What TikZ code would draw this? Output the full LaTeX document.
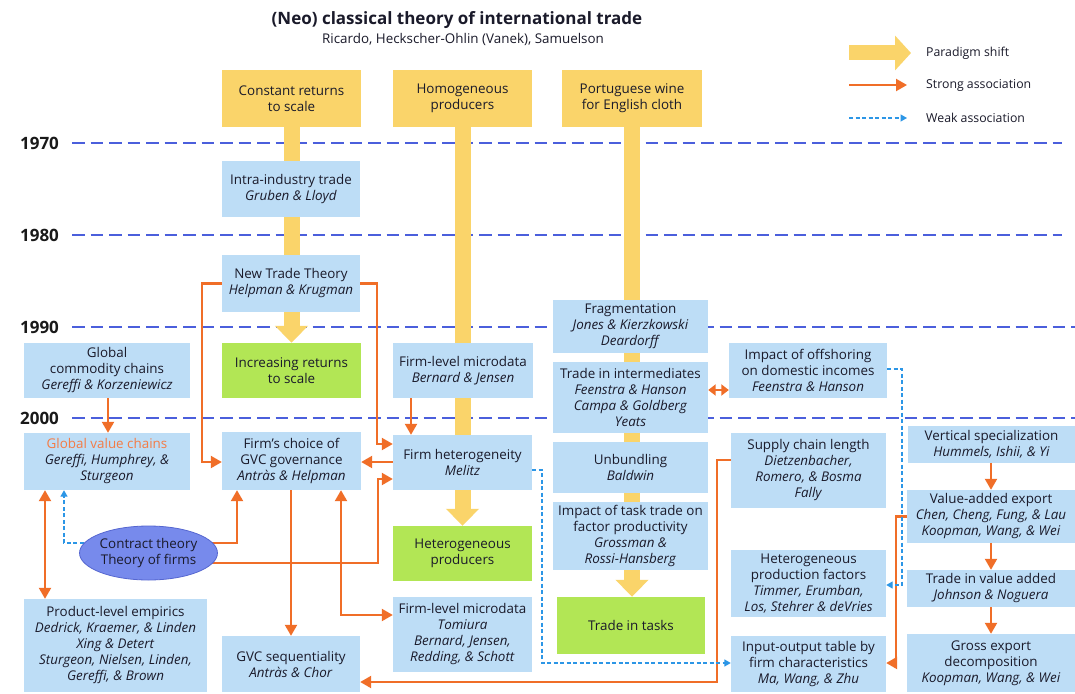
\documentclass[tikz,border=0pt]{standalone}
\usepackage{fontspec}
\setmainfont{Open Sans}
\usetikzlibrary{arrows.meta,shapes.geometric}
\pgfdeclarelayer{bg}
\pgfsetlayers{bg,main}
\definecolor{ybar}{HTML}{FAD46A}
\definecolor{boxblue}{HTML}{BDDDF6}
\definecolor{boxgreen}{HTML}{B2E655}
\definecolor{orng}{HTML}{F06E28}
\definecolor{gvcorange}{HTML}{F47B45}
\definecolor{dblue}{HTML}{2C96E6}
\definecolor{yrline}{HTML}{4B5FDC}
\definecolor{ellfill}{HTML}{778AEC}
\definecolor{elldraw}{HTML}{5566D0}
\definecolor{textcol}{HTML}{1A1A2A}
\newcommand\bodyfont{\fontsize{13.4}{16}\selectfont}
\begin{document}
\begin{tikzpicture}[x=1pt,y=-1pt,
  bx/.style={fill=boxblue, inner sep=0pt, align=center, font=\bodyfont, text=textcol},
  gbx/.style={bx, fill=boxgreen},
  ybx/.style={bx, fill=ybar},
  wh/.style 2 args={minimum width=#1, minimum height=#2},
  oarr/.style={draw=orng, line width=2.2pt, -{Triangle[length=11pt,width=12pt]}},
  oarrr/.style={draw=orng, line width=2.2pt, {Triangle[length=11pt,width=12pt]}-{Triangle[length=11pt,width=12pt]}},
  oarrs/.style={draw=orng, line width=2.2pt, {Triangle[length=7.5pt,width=11pt]}-{Triangle[length=7.5pt,width=11pt]}},
  barr/.style={draw=dblue, line width=1.4pt, dash pattern=on 4pt off 2.5pt, -{Triangle[length=6.5pt,width=7pt]}},
  paradigm/.style={draw=ybar, line width=16pt, -{Triangle[length=17pt,width=32pt]}},
  yline/.style={draw=yrline, line width=1.5pt, dash pattern=on 12.5pt off 6pt},
  yr/.style={font=\fontsize{17}{19}\selectfont\bfseries, text=black!90, inner sep=0pt},
  lg/.style={font=\fontsize{12.3}{14}\selectfont, text=textcol, anchor=west, inner sep=0pt}
]
\useasboundingbox (0,0) rectangle (1075,693);

% title
\node[font=\fontsize{17}{19}\selectfont\bfseries, text=textcol] (title) at (457,20) {(Neo) classical theory of international trade};
\node[font=\fontsize{13.4}{15}\selectfont, text=textcol] (subtitle) at (463,39) {Ricardo, Heckscher-Ohlin (Vanek), Samuelson};

% legend
\coordinate (lg1a) at (849,53); \coordinate (lg1b) at (911,53);
\coordinate (lg2a) at (849,85); \coordinate (lg2b) at (907,85);
\coordinate (lg3a) at (849,118); \coordinate (lg3b) at (907,118);
\node[lg] (lgt1) at (926,53) {Paradigm shift};
\node[lg] (lgt2) at (926,85) {Strong association};
\node[lg] (lgt3) at (926,118) {Weak association};

% years
\node[yr] (y1970) at (39.5,143) {1970};
\node[yr] (y1980) at (39.5,235) {1980};
\node[yr] (y1990) at (39.5,327) {1990};
\node[yr] (y2000) at (39.5,418) {2000};

% top yellow boxes
\node[ybx, wh={139}{57}] (crs) at (291.5,98.5) {Constant returns\\to scale};
\node[ybx, wh={139}{57}] (homog) at (462.5,98.5) {Homogeneous\\producers};
\node[ybx, wh={140}{57}] (port) at (632,98.5) {Portuguese wine\\for English cloth};

% column 1
\node[bx, wh={138}{56}] (intra) at (291,189) {Intra-industry trade\\\textit{Gruben \& Lloyd}};
\node[bx, wh={138}{57}] (ntt) at (291,283.5) {New Trade Theory\\\textit{Helpman \& Krugman}};
\node[gbx, wh={139}{55}] (irs) at (291.5,370.5) {Increasing returns\\to scale};
\node[bx, wh={139}{58}] (choice) at (291.5,461) {Firm’s choice of\\GVC governance\\\textit{Antràs \& Helpman}};
\node[bx, wh={138}{56}] (seq) at (291,664) {GVC sequentiality\\\textit{Antràs \& Chor}};

% column 0
\node[bx, wh={166}{55}] (gcc) at (107,370.5) {Global\\commodity chains\\\textit{Gereffi \& Korzeniewicz}};
\node[bx, wh={166}{57}] (gvc) at (107,461.5) {\textcolor{gvcorange}{Global value chains}\\\textit{Gereffi, Humphrey, \&}\\\textit{Sturgeon}};
\node[ellipse, fill=ellfill, draw=elldraw, line width=0.8pt, inner sep=0pt, minimum width=137, minimum height=54, align=center, font=\bodyfont, text=textcol] (ct) at (148.5,553) {Contract theory\\Theory of firms};
\node[bx, wh={183}{93}] (ple) at (115.5,645.5) {Product-level empirics\\\textit{Dedrick, Kraemer, \& Linden}\\\textit{Xing \& Detert}\\\textit{Sturgeon, Nielsen, Linden,}\\\textit{Gereffi, \& Brown}};

% column 2
\node[bx, wh={140}{55}] (fbj) at (463,370.5) {Firm-level microdata\\\textit{Bernard \& Jensen}};
\node[bx, wh={139}{55}] (fhet) at (462.5,462.5) {Firm heterogeneity\\\textit{Melitz}};
\node[gbx, wh={139}{55}] (hetp) at (462.5,553.5) {Heterogeneous\\producers};
\node[bx, wh={139}{75}] (tom) at (462.5,634.5) {Firm-level microdata\\\textit{Tomiura}\\\textit{Bernard, Jensen,}\\\textit{Redding, \& Schott}};

% column 3
\node[bx, wh={155}{53}] (frag) at (630.5,326.5) {Fragmentation\\\textit{Jones \& Kierzkowski}\\\textit{Deardorff}};
\node[bx, wh={155}{71}] (tii) at (630.5,397.5) {Trade in intermediates\\\textit{Feenstra \& Hanson}\\\textit{Campa \& Goldberg}\\\textit{Yeats}};
\node[bx, wh={155}{51}] (unb) at (630.5,467.5) {Unbundling\\\textit{Baldwin}};
\node[bx, wh={155}{68}] (imp) at (630.5,536) {Impact of task trade on\\factor productivity\\\textit{Grossman \&}\\\textit{Rossi-Hansberg}};
\node[gbx, wh={148}{57}] (tasks) at (631,625.5) {Trade in tasks};

% column 4
\node[bx, wh={158}{55}] (offsh) at (808,370.5) {Impact of offshoring\\on domestic incomes\\\textit{Feenstra \& Hanson}};
\node[bx, wh={155}{75}] (scl) at (808.5,470.5) {Supply chain length\\\textit{Dietzenbacher,}\\\textit{Romero, \& Bosma}\\\textit{Fally}};
\node[bx, wh={155}{67}] (hpf) at (808.5,583.5) {Heterogeneous\\production factors\\\textit{Timmer, Erumban,}\\\textit{Los, Stehrer \& deVries}};
\node[bx, wh={155}{56}] (iot) at (808.5,664) {Input-output table by\\firm characteristics\\\textit{Ma, Wang, \& Zhu}};

% column 5
\node[bx, wh={167}{37}] (vs) at (991.5,444.5) {Vertical specialization\\\textit{Hummels, Ishii, \& Yi}};
\node[bx, wh={168}{53}] (vae) at (991,516.5) {Value-added export\\\textit{Chen, Cheng, Fung, \& Lau}\\\textit{Koopman, Wang, \& Wei}};
\node[bx, wh={168}{37}] (tiva) at (991,588.5) {Trade in value added\\\textit{Johnson \& Noguera}};
\node[bx, wh={168}{58}] (gross) at (991,663) {Gross export\\decomposition\\\textit{Koopman, Wang, \& Wei}};

\begin{pgfonlayer}{bg}
  \fill[white] (0,0) rectangle (1075,693);
  % year lines
  \draw[yline] (72,143) -- (1062,143);
  \draw[yline] (72,235) -- (1062,235);
  \draw[yline] (72,327) -- (1075,327);
  \draw[yline] (72,418) -- (1075,418);
  % paradigm shifts
  \draw[paradigm] (crs.south) -- (irs.north);
  \draw[paradigm] (homog.south) -- (hetp.north);
  \draw[paradigm] (port.south) -- (port.south |- tasks.north);
  \draw[draw=ybar, line width=15pt, -{Triangle[length=16pt,width=34pt]}] (lg1a) -- (lg1b);
  \draw[oarr] (lg2a) -- (lg2b);
  \draw[barr] (lg3a) -- (lg3b);
  % strong associations
  \draw[oarr] (ntt.west) -| (202,462) -- (choice.west |- 0,462);
  \draw[oarr] (ntt.east) -| (377,444) -- (fhet.west |- 0,444);
  \draw[oarr] (fbj.south -| 411,0) -- (fhet.north -| 411,0);
  \draw[oarr] (fhet.west |- 0,462) -- (choice.east |- 0,462);
  \draw[oarr] (ct.center |- 0,543) -| (choice.south -| 237,0);
  \draw[oarr] (ct.center |- 0,563) -| (378,479) -- (fhet.west |- 0,479);
  \draw[oarr] (choice.south -| 291,0) -- (seq.north -| 291,0);
  \draw[oarrr] (choice.south -| 341,0) |- (tom.west |- 0,615);
  \draw[oarr] (gcc.south -| 108,0) -- (gvc.north -| 108,0);
  \draw[oarrr] (gvc.south -| 45,0) -- (ple.north -| 45,0);
  \draw[oarr] (scl.west |- 0,460) -| (717,682) -- (seq.east |- 0,682);
  \draw[oarrs] (tii.east |- 0,390) -- (offsh.west |- 0,390);
  \draw[oarr] (vs.south -| 991,0) -- (vae.north -| 991,0);
  \draw[oarr] (vae.south -| 991,0) -- (tiva.north -| 991,0);
  \draw[oarr] (tiva.south -| 991,0) -- (gross.north -| 991,0);
  \draw[oarr] (vae.west) -| (896,663) -- (iot.east |- 0,663);
  % weak associations
  \draw[barr] (ct.center |- 0,543) -| (gvc.south -| 64,0);
  \draw[barr] (offsh.east |- 0,369) -| (902,585) -- (hpf.east |- 0,585);
  \draw[barr] (fhet.east |- 0,470) -| (542,663) -- (iot.west |- 0,663);
\end{pgfonlayer}
\end{tikzpicture}
\end{document}
